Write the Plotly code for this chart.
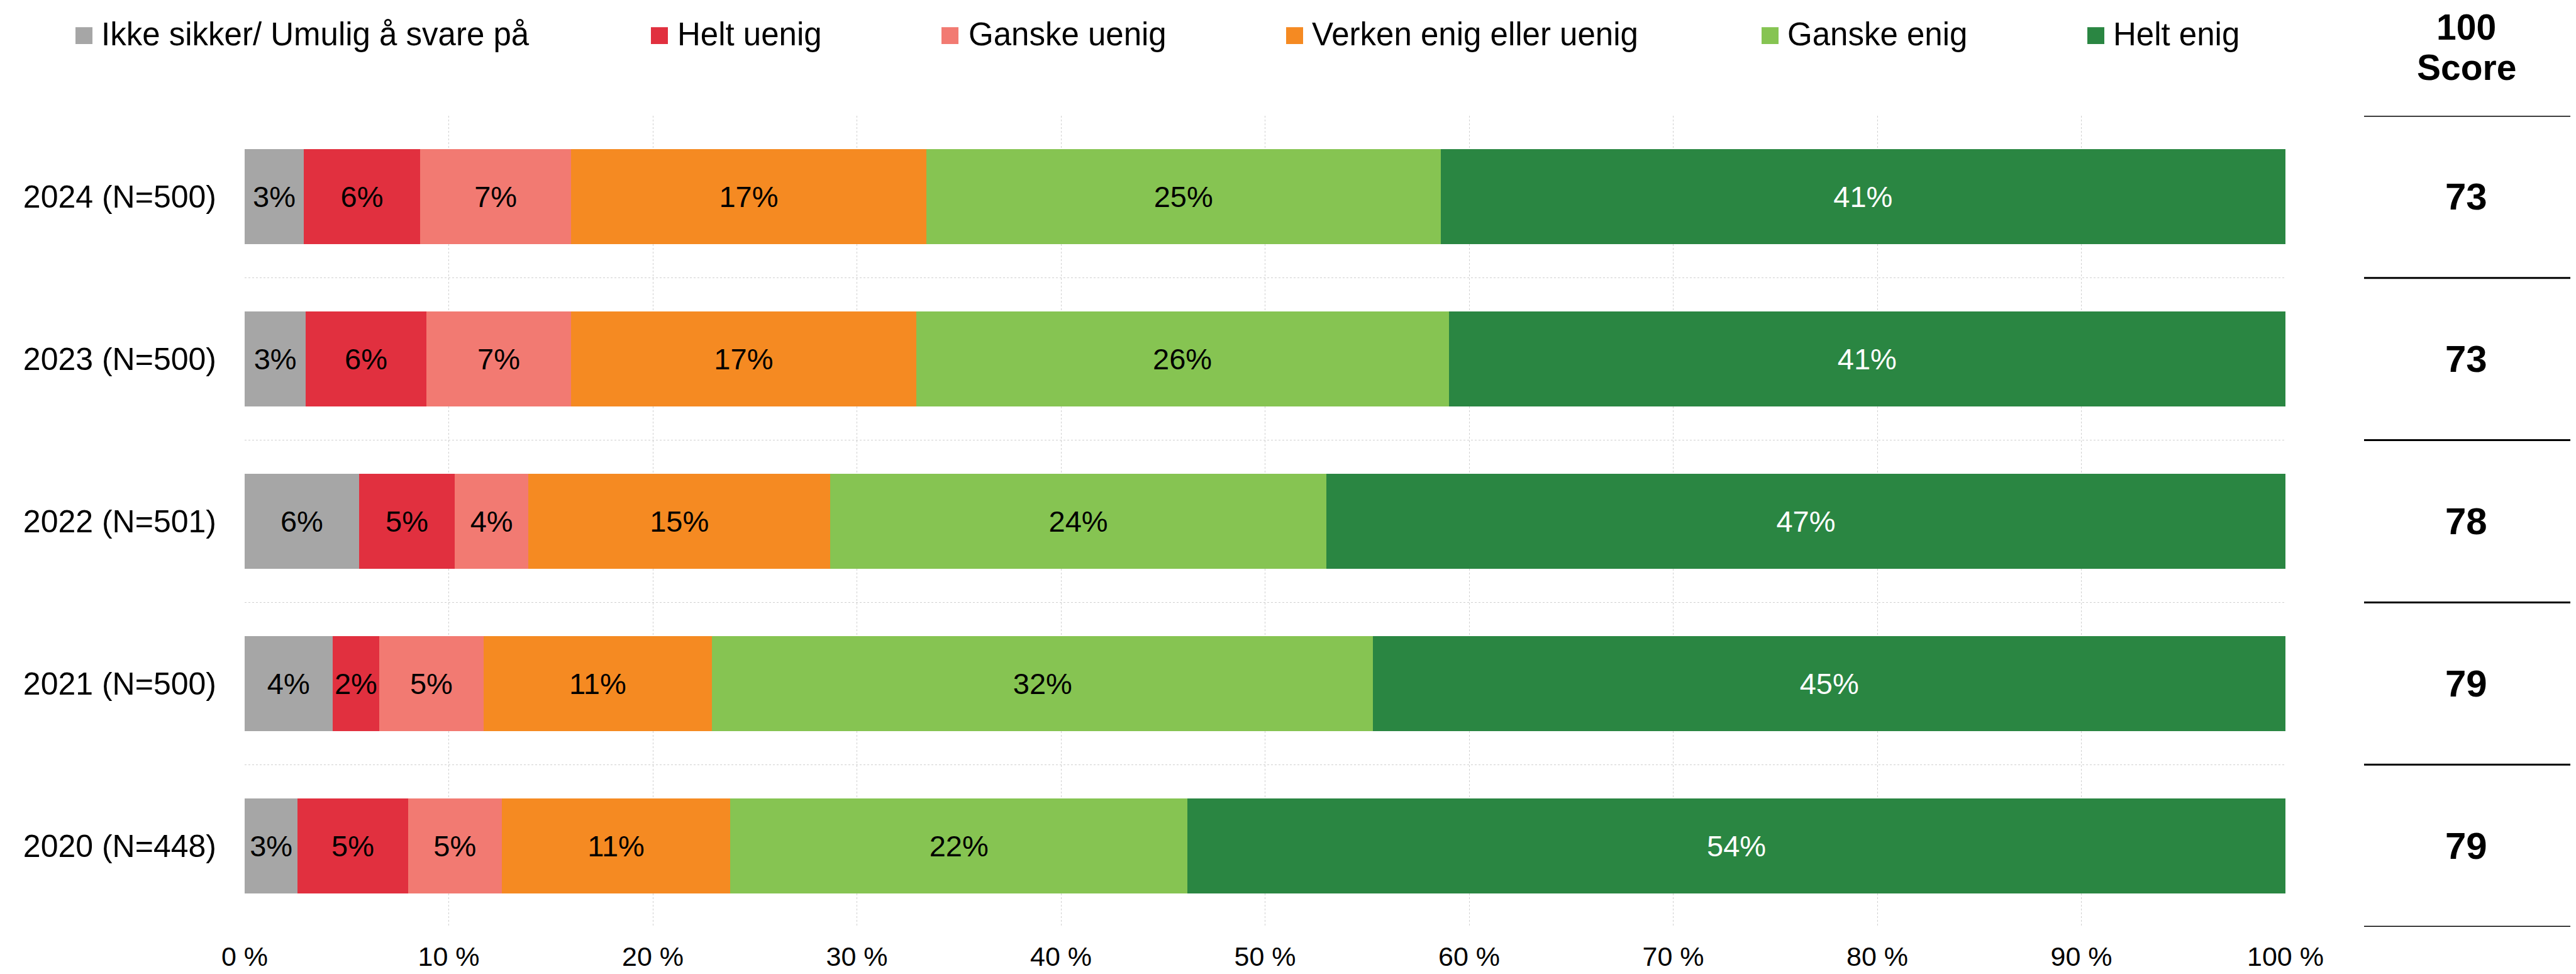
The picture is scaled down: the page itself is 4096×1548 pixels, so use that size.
import plotly.graph_objects as go

# ---------------- data ----------------
categories = ["2024 (N=500)", "2023 (N=500)", "2022 (N=501)", "2021 (N=500)", "2020 (N=448)"]
series_names = ["Ikke sikker/ Umulig å svare på", "Helt uenig", "Ganske uenig",
                "Verken enig eller uenig", "Ganske enig", "Helt enig"]
ikke_sikker = [2.9, 3.0, 5.6, 4.3, 2.6]
helt_uenig = [5.7, 5.9, 4.7, 2.3, 5.4]
ganske_uenig = [7.4, 7.1, 3.6, 5.1, 4.6]
verken = [17.4, 16.9, 14.8, 11.2, 11.2]
ganske_enig = [25.2, 26.1, 24.3, 32.4, 22.4]
helt_enig = [41.4, 41.0, 47.0, 44.7, 53.8]
scores = [73, 73, 78, 79, 79]
score_header = ["100", "Score"]
x_tick_values = [0, 10, 20, 30, 40, 50, 60, 70, 80, 90, 100]
x_tick_labels = ["0 %", "10 %", "20 %", "30 %", "40 %", "50 %", "60 %", "70 %", "80 %", "90 %", "100 %"]

# ---------------- styles ----------------
series_values = [ikke_sikker, helt_uenig, ganske_uenig, verken, ganske_enig, helt_enig]
colors = ["#A6A6A6", "#E1303F", "#F27A72", "#F58A22", "#86C452", "#2A8642"]
text_colors = ["#000000", "#000000", "#000000", "#000000", "#000000", "#FFFFFF"]
FONT = "Arial, 'Liberation Sans', sans-serif"

W, H = 4096, 1548
L, R, T, B = 381, 470, 176, 72
PW = W - L - R
PH = H - T - B


def px2x(px):
    return (px - L) / PW


def py2y(py):
    return 1 - (py - T) / PH


fig = go.Figure()
for name, vals, col, tcol in zip(series_names, series_values, colors, text_colors):
    fig.add_trace(go.Bar(
        y=categories, x=vals, name=name, orientation="h",
        marker=dict(color=col, line=dict(width=0)),
        width=0.585,
        texttemplate="%{x:.0f}%", textposition="inside", insidetextanchor="middle",
        textangle=0,
        textfont=dict(family=FONT, size=47, color=tcol),
        showlegend=False,
    ))

shapes = []
annotations = []

# manual legend (squares + labels)
legend_sq_left = [112, 1027, 1489, 2037, 2793, 3311]
legend_txt_left = [153, 1069, 1532, 2078, 2834, 3352]
for name, col, sq, tx in zip(series_names, colors, legend_sq_left, legend_txt_left):
    shapes.append(dict(type="rect", xref="paper", yref="paper",
                       x0=px2x(sq), x1=px2x(sq + 27), y0=py2y(61), y1=py2y(34),
                       fillcolor=col, line=dict(width=0)))
    annotations.append(dict(xref="paper", yref="paper", x=px2x(tx - 2), y=py2y(45),
                            xanchor="left", yanchor="middle", showarrow=False,
                            text=name, font=dict(family=FONT, size=51, color="#000000")))

# score column
x_score = px2x(3914)
for i in range(len(categories) + 1):
    shapes.append(dict(type="line", xref="paper", yref="y",
                       x0=px2x(3751), x1=px2x(4079), y0=i - 0.5, y1=i - 0.5,
                       line=dict(color="#000000", width=3)))
for cat_i, s in enumerate(scores):
    annotations.append(dict(xref="paper", yref="y", x=x_score, y=cat_i,
                            xanchor="center", yanchor="middle", showarrow=False,
                            text="<b>%d</b>" % s, font=dict(family=FONT, size=60, color="#000000")))
for txt, py in zip(score_header, [34, 98]):
    annotations.append(dict(xref="paper", yref="paper", x=x_score, y=py2y(py),
                            xanchor="center", yanchor="middle", showarrow=False,
                            text="<b>%s</b>" % txt, font=dict(family=FONT, size=57, color="#000000")))

fig.update_layout(
    width=W, height=H,
    margin=dict(l=L, r=R, t=T, b=B, pad=0),
    barmode="stack",
    plot_bgcolor="#FFFFFF", paper_bgcolor="#FFFFFF",
    font=dict(family=FONT, color="#000000"),
    uniformtext=dict(minsize=47, mode="show"),
    shapes=shapes, annotations=annotations,
    showlegend=False,
    xaxis=dict(range=[0, 100], tickvals=x_tick_values, ticktext=x_tick_labels,
               showgrid=True, gridcolor="#D0D0D0", gridwidth=1, griddash="3px,3px",
               zeroline=False, showline=False, ticks="",
               tickfont=dict(family=FONT, size=43, color="#000000"),
               ticklabelstandoff=18, fixedrange=True),
    yaxis=dict(categoryorder="array", categoryarray=categories,
               range=[len(categories) - 0.5, -0.5],
               tickson="boundaries", showgrid=True, gridcolor="#D0D0D0", gridwidth=1,
               griddash="3px,3px", zeroline=False, showline=False, ticks="",
               tickfont=dict(family=FONT, size=50, color="#000000"),
               ticklabelstandoff=44, fixedrange=True),
)

fig.write_html("out.html")
